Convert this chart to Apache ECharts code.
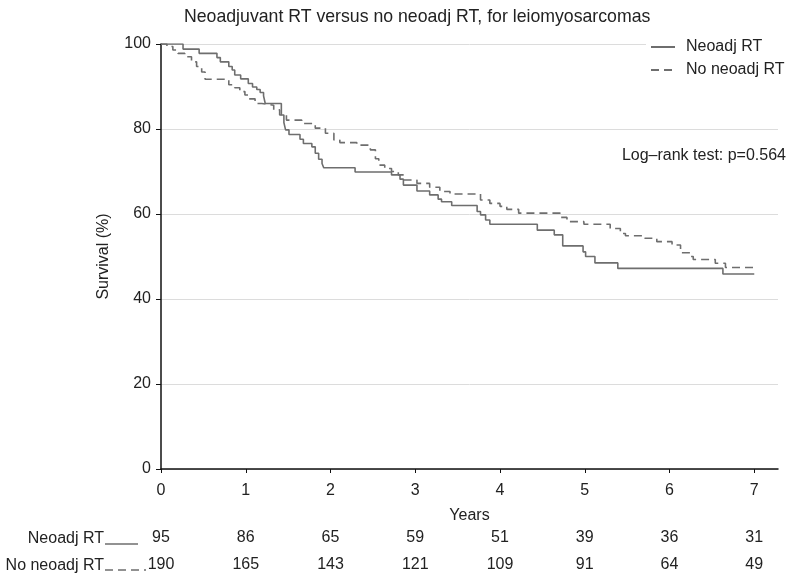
<!DOCTYPE html>
<html><head><meta charset="utf-8">
<script src="https://cdn.jsdelivr.net/npm/echarts@6/dist/echarts.min.js"></script>
<style>html,body{margin:0;padding:0;background:#fff}#c{width:795px;height:583px}</style>
</head><body><div id="c"></div>
<script>
// ---- data ----
const years = [0, 1, 2, 3, 4, 5, 6, 7];
const yTicks = [0, 20, 40, 60, 80, 100];
const riskNeo = [95, 86, 65, 59, 51, 39, 36, 31];
const riskNo = [190, 165, 143, 121, 109, 91, 64, 49];

const neoTimes = [0, 0.26, 0.45, 0.66, 0.70, 0.80, 0.84, 0.87, 0.94, 1.03, 1.08, 1.13, 1.17, 1.21, 1.23,
  1.42, 1.45, 1.47, 1.51, 1.64, 1.68, 1.78, 1.82, 1.86, 1.90, 1.92, 2.29, 2.72, 2.82, 2.86,
  3.02, 3.17, 3.27, 3.31, 3.43, 3.73, 3.77, 3.83, 3.88, 4.44, 4.64, 4.74, 4.98, 5.01, 5.12, 5.39, 6.63];
const neoSurv = [100, 98.8, 97.8, 96.8, 95.8, 94.7, 93.9, 92.7, 91.8, 90.7, 89.9, 89.3, 88.6, 87.8, 86.0,
  83.3, 81.5, 79.8, 78.7, 77.6, 76.6, 75.8, 74.3, 72.9, 71.9, 70.9, 69.9, 69.2, 68.2, 66.8,
  65.4, 64.5, 63.5, 62.9, 62.0, 60.6, 59.8, 58.6, 57.6, 56.2, 55.1, 52.5, 51.1, 50.0, 48.5, 47.2, 45.9];
const neoEnd = 7.0;

const noTimes = [0, 0.07, 0.14, 0.20, 0.28, 0.36, 0.42, 0.48, 0.52, 0.80, 0.87, 0.93, 0.99, 1.03, 1.11,
  1.19, 1.33, 1.40, 1.48, 1.66, 1.82, 1.94, 2.04, 2.11, 2.31, 2.47, 2.53, 2.57, 2.64, 2.72,
  2.80, 2.87, 3.02, 3.17, 3.29, 3.41, 3.77, 3.88, 4.00, 4.08, 4.22, 4.71, 4.79, 4.99, 5.30,
  5.42, 5.48, 5.71, 5.85, 6.03, 6.13, 6.25, 6.28, 6.54, 6.66];
const noSurv = [100, 99.4, 98.6, 97.8, 97.0, 95.8, 94.7, 93.4, 91.7, 90.4, 89.7, 88.8, 88.0, 87.1, 86.0,
  85.6, 84.5, 83.3, 82.1, 81.3, 80.2, 79.0, 77.4, 76.8, 76.2, 75.1, 73.0, 71.5, 70.7, 70.0,
  69.2, 68.0, 67.2, 66.3, 65.3, 64.7, 63.3, 62.5, 61.8, 61.1, 60.2, 59.2, 58.2, 57.6, 56.6,
  55.4, 54.9, 54.3, 53.5, 52.7, 50.9, 50.0, 49.3, 48.4, 47.4];
const noEnd = 6.99;

// ---- build step paths ----
function stepData(times, surv, end) {
  const d = [[times[0], surv[0]]];
  for (let i = 1; i < times.length; i++) {
    d.push([times[i], surv[i - 1]]);
    d.push([times[i], surv[i]]);
  }
  d.push([end, surv[surv.length - 1]]);
  return d;
}

const FONT = 'Liberation Sans, Arial, Helvetica, sans-serif';
const TXT = '#222';
const LINE = '#6e6e6e';
const XMAX = 7.28;

const chart = echarts.init(document.getElementById('c'), null, { renderer: 'canvas' });

function riskAxis(values, offset) {
  return {
    type: 'value', min: 0, max: XMAX, position: 'bottom', offset: offset,
    axisLine: { show: false }, axisTick: { show: false }, splitLine: { show: false },
    axisLabel: {
      customValues: years,
      formatter: v => { const i = years.indexOf(Math.round(v)); return i >= 0 ? String(values[i]) : ''; },
      margin: 14, fontFamily: FONT, fontSize: 16, color: TXT
    }
  };
}

chart.setOption({
  backgroundColor: '#fff',
  animation: false,
  title: {
    text: 'Neoadjuvant RT versus no neoadj RT, for leiomyosarcomas',
    left: 179, top: 3,
    textStyle: { fontFamily: FONT, fontSize: 17.7, fontWeight: 'normal', color: TXT }
  },
  legend: {
    data: ['Neoadj RT', 'No neoadj RT'],
    orient: 'vertical', left: 646, top: 37,
    itemWidth: 24, itemHeight: 12, itemGap: 7,
    backgroundColor: '#fff', padding: [2, 4, 2, 4],
    itemStyle: { opacity: 0 },
    textStyle: { fontFamily: FONT, fontSize: 16, color: TXT, padding: [0, 0, 0, 6] }
  },
  grid: { left: 161, top: 44, right: 17, bottom: 114, containLabel: false },
  xAxis: [
    {
      type: 'value', min: 0, max: XMAX,
      name: 'Years', nameLocation: 'middle', nameGap: 39,
      nameTextStyle: { fontFamily: FONT, fontSize: 16, color: TXT },
      axisLine: { show: true, lineStyle: { color: '#111', width: 1.5 } },
      axisTick: { show: true, customValues: years, length: 4, lineStyle: { color: '#111' } },
      axisLabel: {
        customValues: years, margin: 14,
        fontFamily: FONT, fontSize: 16, color: TXT
      },
      splitLine: { show: false }
    },
    riskAxis(riskNeo, 47),
    riskAxis(riskNo, 74)
  ],
  yAxis: {
    type: 'value', min: 0, max: 100, interval: 20,
    name: 'Survival (%)', nameLocation: 'middle', nameGap: 49, nameRotate: 90,
    nameTextStyle: { fontFamily: FONT, fontSize: 16, color: TXT },
    axisLine: { show: true, lineStyle: { color: '#111', width: 1.5 } },
    axisTick: { show: true, length: 5, lineStyle: { color: '#111' } },
    axisLabel: { margin: 10, fontFamily: FONT, fontSize: 16, color: TXT },
    splitLine: { show: true, lineStyle: { color: '#dcdcdc', width: 1 } }
  },
  series: [
    {
      name: 'Neoadj RT', type: 'line', xAxisIndex: 0,
      data: stepData(neoTimes, neoSurv, neoEnd),
      symbol: 'none', showSymbol: false,
      lineStyle: { color: LINE, width: 1.6, type: 'solid' },
      itemStyle: { color: LINE }
    },
    {
      name: 'No neoadj RT', type: 'line', xAxisIndex: 0,
      data: stepData(noTimes, noSurv, noEnd),
      symbol: 'none', showSymbol: false,
      lineStyle: { color: LINE, width: 1.6, type: [8, 5] },
      itemStyle: { color: LINE }
    }
  ],
  graphic: [
    {
      type: 'text', right: 9, top: 148,
      style: { text: 'Log\u2013rank test: p=0.564', fontFamily: FONT, fontSize: 16, fill: TXT }
    },
    {
      type: 'text', x: 104, y: 539,
      style: { text: 'Neoadj RT', align: 'right', verticalAlign: 'middle', fontFamily: FONT, fontSize: 16, fill: TXT }
    },
    {
      type: 'line', shape: { x1: 105, y1: 544, x2: 138, y2: 544 },
      style: { stroke: LINE, lineWidth: 1.3 }
    },
    {
      type: 'text', x: 104, y: 566,
      style: { text: 'No neoadj RT', align: 'right', verticalAlign: 'middle', fontFamily: FONT, fontSize: 16, fill: TXT }
    },
    {
      type: 'line', shape: { x1: 105, y1: 570, x2: 146, y2: 570 },
      style: { stroke: LINE, lineWidth: 1.3, lineDash: [8, 5] }
    }
  ]
});
</script>
</body></html>
